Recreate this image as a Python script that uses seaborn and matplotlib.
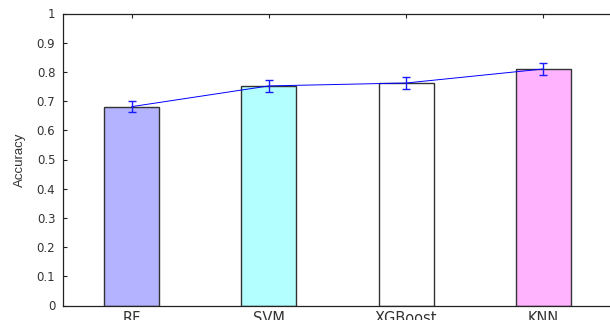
import matplotlib
matplotlib.use("Agg")
import matplotlib.pyplot as plt
import seaborn as sns
import pandas as pd

models = ["RF", "SVM", "XGBoost", "KNN"]
accuracy = [0.681, 0.752, 0.762, 0.810]
acc_err = [0.020, 0.020, 0.020, 0.021]
bar_colors = ["#b3b3ff", "#b3ffff", "#ffffff", "#ffb3ff"]
yticks = [0, 0.1, 0.2, 0.3, 0.4, 0.5, 0.6, 0.7, 0.8, 0.9, 1]
ytick_labels = ["0", "0.1", "0.2", "0.3", "0.4", "0.5", "0.6", "0.7", "0.8", "0.9", "1"]

sns.set_style("white")
plt.rcParams["font.family"] = ["DejaVu Sans"]

df = pd.DataFrame({"model": models, "accuracy": accuracy})

fig = plt.figure(figsize=(6.10, 3.20), dpi=100)
ax = fig.add_axes([63 / 610, 14.5 / 320, (612 - 63) / 610, 292 / 320])

sns.barplot(data=df, x="model", y="accuracy", hue="model", palette=bar_colors,
            saturation=1, width=0.4, edgecolor="#333333", linewidth=1.0,
            legend=False, errorbar=None, ax=ax)

xs = list(range(len(models)))
ax.plot(xs, accuracy, color="#0000ff", linewidth=0.7, zorder=3)
ax.errorbar(xs, accuracy, yerr=acc_err, fmt="none", ecolor="#1a1aff",
            elinewidth=1.0, capsize=3, capthick=1.0, zorder=4)

ax.set_xlim(-0.5, 3.5)
ax.set_ylim(0, 1)
ax.set_yticks(yticks)
ax.set_yticklabels(ytick_labels)
ax.set_xlabel("")
ax.set_ylabel("Accuracy", fontsize=9.5, family="Liberation Sans",
              color="#333333", labelpad=8)

for side in ["left", "bottom", "top"]:
    ax.spines[side].set_visible(True)
    ax.spines[side].set_color("#222222")
    ax.spines[side].set_linewidth(0.9)
ax.spines["right"].set_visible(False)

ax.tick_params(axis="both", direction="in", length=3, width=0.8,
               colors="#222222", labelcolor="#333333")
ax.tick_params(axis="y", pad=5.5, left=True, right=False, labelsize=8.5)
ax.tick_params(axis="x", pad=4, bottom=True, top=True, labelsize=10.5)

fig.savefig("out.png", dpi=100)
